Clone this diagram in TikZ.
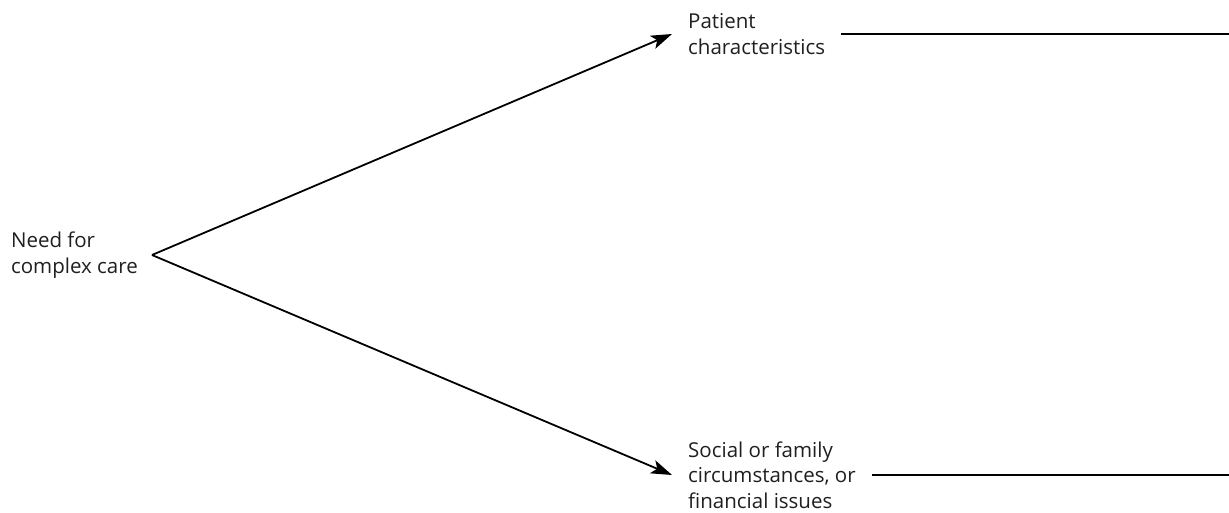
\documentclass[tikz,border=0pt]{standalone}
\usepackage{fontspec}
\setmainfont{Open Sans}
\usetikzlibrary{arrows.meta}

\tikzset{
  label/.style={align=left, inner xsep=16pt, inner ysep=0pt, text=black!88, font=\fontsize{20.5}{25.3}\selectfont},
  link/.style={line width=1.8pt, -{Stealth[length=21pt, width=14pt, inset=5pt]}},
  rule/.style={line width=1.8pt}
}

\begin{document}
\begin{tikzpicture}[x=1pt, y=-1pt]

\useasboundingbox (0,0) rectangle (1229,513);

% Labels
\node [label, anchor=east, inner xsep=14pt] (need) at (152,255) {Need for\\complex care};

\node [label, anchor=west] (patient) at (672,34) {Patient\\characteristics};

\node [label, anchor=west] (social) at (672,475) {Social or family\\circumstances, or\\financial issues};

\coordinate (edge) at (1229,0);

%Arrows
\draw [link] (need.east) -- (patient.west);
\draw [link] (need.east) -- (social.west);

\draw [rule] (patient.east) -- (patient.east -| edge);
\draw [rule] (social.east) -- (social.east -| edge);

\end{tikzpicture}
\end{document}
